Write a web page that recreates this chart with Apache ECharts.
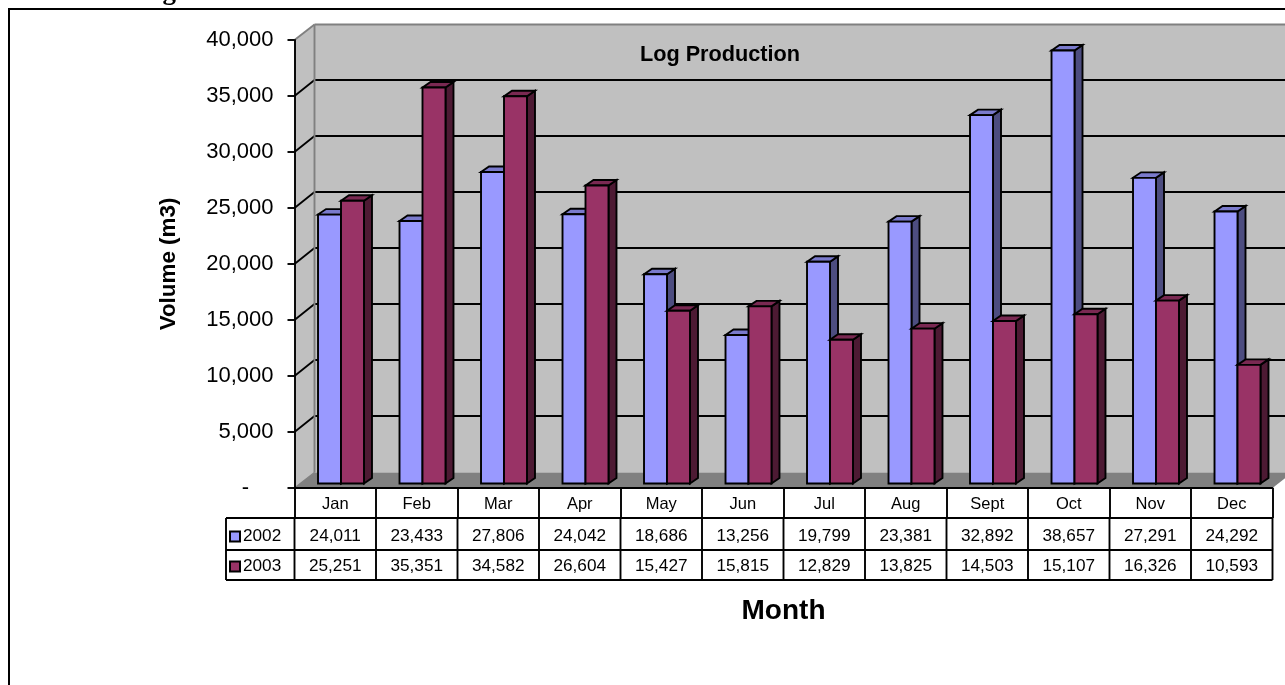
<!DOCTYPE html>
<html>
<head>
<meta charset="utf-8">
<style>html,body{margin:0;padding:0;background:#fff;overflow:hidden}#c{width:1285px;height:685px}</style>
<script src="https://cdn.jsdelivr.net/npm/echarts@6/dist/echarts.min.js"></script>
</head>
<body>
<div id="c"></div>
<script>
const categories = ['Jan','Feb','Mar','Apr','May','Jun','Jul','Aug','Sept','Oct','Nov','Dec'];
const values2002 = [24011,23433,27806,24042,18686,13256,19799,23381,32892,38657,27291,24292];
const values2003 = [25251,35351,34582,26604,15427,15815,12829,13825,14503,15107,16326,10593];
const yTicks = [0,5000,10000,15000,20000,25000,30000,35000,40000];
const chartCaption = 'Chart 6: Log Production for Both Mills';
const chartTitle = 'Log Production';
const yName = 'Volume (m3)';
const xName = 'Month';

const FONT = '"Liberation Sans", Arial, sans-serif';
const BLACK = '#000';
const DX = 20, DY = -15.5;      // wall depth
const BDX = 8, BDY = -5.5;      // bar depth
const TABLE_FS = 17.2;
const RULE = 1.9;

function bar(offsetSign, front, top, side, row) {
  return function (params, api) {
    const i = api.value(0), v = api.value(1);
    const c = api.coord([i, v]), b = api.coord([i, 0]);
    const band = api.size([1, 0])[0];
    const w = band * 0.282;
    const mid = c[0] + 5.75;
    const x0 = offsetSign < 0 ? mid - w : mid, x1 = x0 + w;
    const yT = c[1] - 4.5, yB = b[1] - 4.5;
    const line = { stroke: BLACK, lineWidth: RULE, lineJoin: 'miter' };
    const poly = (pts, fill) => ({ type: 'polygon', shape: { points: pts }, style: Object.assign({ fill }, line) });
    return {
      type: 'group',
      children: [
        poly([[x1, yT], [x1 + BDX, yT + BDY], [x1 + BDX, yB + BDY], [x1, yB]], side),
        poly([[x0, yT], [x0 + BDX, yT + BDY], [x1 + BDX, yT + BDY], [x1, yT]], top),
        poly([[x0, yT], [x1, yT], [x1, yB], [x0, yB]], front),
        { type: 'text', style: { x: b[0], y: b[1] + row, text: v.toLocaleString('en-US'), align: 'center', verticalAlign: 'middle', fontSize: TABLE_FS, fontFamily: FONT, fill: BLACK } }
      ]
    };
  };
}

function frame(params, api) {
  const band = api.size([1, 0])[0];
  const xL = api.coord([0, 0])[0] - band / 2;
  const xR = api.coord([categories.length - 1, 0])[0] + band / 2;
  const y0 = api.coord([0, 0])[1];
  const yM = api.coord([0, 40000])[1];
  const kids = [];
  const poly = (pts, fill) => kids.push({ type: 'polygon', shape: { points: pts }, style: { fill, stroke: null } });
  const ln = (x1, y1, x2, y2, stroke, lineWidth) => kids.push({ type: 'line', shape: { x1, y1, x2, y2 }, style: { stroke, lineWidth } });
  poly([[xL + DX, yM + DY], [xR + DX, yM + DY], [xR + DX, y0 + DY], [xL + DX, y0 + DY]], '#c0c0c0');
  poly([[xL, yM], [xL + DX, yM + DY], [xL + DX, y0 + DY], [xL, y0]], '#c0c0c0');
  poly([[xL, y0], [xL + DX, y0 + DY], [xR + DX, y0 + DY], [xR, y0]], '#808080');
  yTicks.forEach(t => {
    const y = api.coord([0, t])[1];
    if (t > 0 && t < 40000) {
      ln(xL, y, xL + DX, y - 16, BLACK, RULE);
      ln(xL + DX, y - 16, xR + DX, y - 16, BLACK, RULE);
    }
  });
  ln(xL, yM, xL + DX, yM + DY, '#808080', RULE);
  ln(xL + DX, yM + DY, xR + DX, yM + DY, '#808080', RULE);
  ln(xL + DX, yM + DY, xL + DX, y0 + DY, '#808080', RULE);
  ln(xL, y0, xL + DX, y0 + DY, '#808080', 1.5);
  // data table rules
  [30, 62, 92].forEach(d => ln(226, y0 + d, xR, y0 + d, BLACK, RULE));
  ln(226, y0 + 30, 226, y0 + 92, BLACK, RULE);
  for (let k = 0; k <= categories.length; k++) {
    const x = xL + band * k;
    ln(x, y0 + 30, x, y0 + 92, BLACK, RULE);
  }
  // outer frame and clipped caption above the chart
  kids.push({ type: 'rect', shape: { x: 9, y: 9, width: 1400, height: 800 }, style: { fill: null, stroke: BLACK, lineWidth: 2 } });
  kids.push({ type: 'text', style: { x: 26, y: 5.5, text: chartCaption, align: 'left', verticalAlign: 'bottom', fontSize: 27, fontWeight: 'bold', fontFamily: '"Liberation Serif", serif', fill: BLACK } });
  return { type: 'group', children: kids };
}

const chart = echarts.init(document.getElementById('c'), null, { renderer: 'canvas' });
chart.setOption({
  animation: false,
  backgroundColor: '#fff',
  title: {
    text: chartTitle, left: 715, top: 39, textAlign: 'center',
    textStyle: { fontFamily: FONT, fontSize: 21.7, fontWeight: 'bold', color: BLACK }
  },
  legend: {
    data: ['2002', '2003'], orient: 'vertical', left: 224, top: 523, itemGap: 13,
    itemWidth: 10, itemHeight: 10, icon: 'rect', selectedMode: false,
    textStyle: { fontFamily: FONT, fontSize: TABLE_FS, color: BLACK, padding: [7, 0, 0, -2] }
  },
  grid: { left: 294.5, top: 40, width: 978, height: 448, containLabel: false },
  xAxis: {
    type: 'category', data: categories, z: 5,
    name: xName, nameLocation: 'middle', nameGap: 123,
    nameTextStyle: { fontFamily: FONT, fontSize: 28, fontWeight: 'bold', color: BLACK, verticalAlign: 'middle' },
    axisLine: { lineStyle: { color: BLACK, width: RULE } },
    axisTick: { show: true, length: 30, lineStyle: { color: BLACK, width: RULE } },
    axisLabel: { fontFamily: FONT, fontSize: 16.5, color: BLACK, margin: 8, interval: 0 },
    splitLine: { show: false }
  },
  yAxis: {
    type: 'value', min: 0, max: 40000, interval: 5000, z: 5,
    name: yName, nameLocation: 'middle', nameGap: 126, nameRotate: 90,
    nameTextStyle: { fontFamily: FONT, fontSize: 22.4, fontWeight: 'bold', color: BLACK, verticalAlign: 'middle' },
    axisLine: { show: true, lineStyle: { color: BLACK, width: RULE } },
    axisTick: { show: true, length: 7, lineStyle: { color: BLACK, width: RULE } },
    axisLabel: { fontFamily: FONT, fontSize: 22, color: BLACK, margin: 21, padding: [6, 0, 0, 0], formatter: v => v === 0 ? '-\u00a0\u00a0\u00a0\u00a0' : v.toLocaleString('en-US') },
    splitLine: { show: false }
  },
  series: [
    { type: 'custom', name: 'frame', z: 1, silent: true, clip: false, data: [[0, 0]], renderItem: frame, encode: { x: 0, y: 1 } },
    { type: 'custom', name: '2002', z: 3, clip: false,
      itemStyle: { color: '#9999ff', borderColor: BLACK, borderWidth: 1.9 },
      data: values2002.map((v, i) => [i, v]), encode: { x: 0, y: 1 },
      renderItem: bar(-1, '#9999ff', '#7a7acc', '#4d4d80', 48.5) },
    { type: 'custom', name: '2003', z: 4, clip: false,
      itemStyle: { color: '#993366', borderColor: BLACK, borderWidth: 1.9 },
      data: values2003.map((v, i) => [i, v]), encode: { x: 0, y: 1 },
      renderItem: bar(1, '#993366', '#7a2952', '#4d1a33', 78.5) }
  ]
});
</script>
</body>
</html>
